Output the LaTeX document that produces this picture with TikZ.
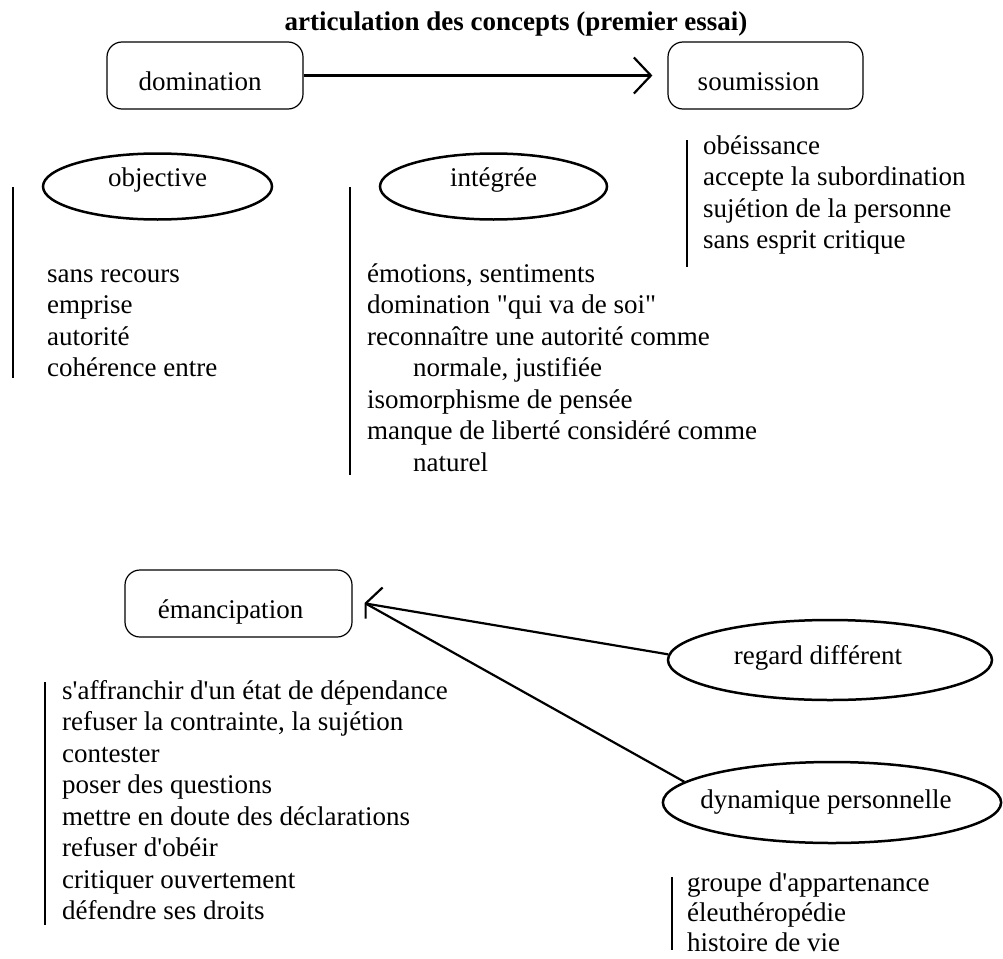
\documentclass[tikz,border=0pt]{standalone}
\usepackage{fontspec}
\setmainfont{Liberation Serif}[Ligatures=TeXOff]
\usetikzlibrary{shapes.geometric,arrows.meta}
% moves a label left by #1 inside a fixed-size shape
\newcommand{\leftby}[1]{\hspace*{-2\dimexpr#1\relax}}
\begin{document}
\begin{tikzpicture}[x=1pt,y=-1pt,
  every node/.style={font=\fontsize{27}{31.5}\selectfont, inner sep=0pt},
  concept/.style={draw, rounded corners=15pt, line width=1.2pt,
    minimum width=196pt, minimum height=67pt, text height=30pt, text depth=0pt},
  aspect/.style={draw, ellipse, line width=2.5pt,
    minimum width=229pt, minimum height=66pt, text height=10pt, text depth=10pt},
  item/.style={anchor=base west},
  bar/.style={line width=2.6pt},
  link/.style={line width=2.2pt}
]
\path[use as bounding box, fill=white] (0,0) rectangle (1003,958);

% title
\node[font=\bfseries\fontsize{27}{31.5}\selectfont, anchor=base] (title) at (516,31)
  {articulation des concepts (premier essai)};

% domination -> soumission
\node[concept] (dom) at (205,75.5) {\leftby{5pt}domination};
\node[concept, minimum width=195pt] (soum) at (765.5,75.5) {\leftby{7pt}soumission};
\draw[link, -{Straight Barb[length=17pt,width=36pt]}, shorten >=15pt] (dom.east) -- (soum.west);

% the two forms of domination
\node[aspect] (obj) at (157.5,186.5) {objective};
\node[aspect, minimum width=227pt] (integ) at (493.5,186.5) {intégrée};

\draw[bar] (13,187) -- (13,378);
\foreach \t [count=\i from 0] in {sans recours, emprise, autorité, cohérence entre}
  \node[item] (obj-\i) at (47,{282+31.5*\i}) {\t};

\draw[bar] (350,187) -- (350,475);
\foreach \t/\x [count=\i from 0] in {{émotions, sentiments}/367,
    {domination "qui va de soi"}/367,
    {reconnaître une autorité comme}/367,
    {normale, justifiée}/413,
    {isomorphisme de pensée}/367,
    {manque de liberté considéré comme}/367,
    {naturel}/413}
  \node[item] (integ-\i) at (\x,{282+31.5*\i}) {\t};

% soumission
\draw[bar] (687,140) -- (687,267);
\foreach \t [count=\i from 0] in {obéissance, accepte la subordination,
    sujétion de la personne, sans esprit critique}
  \node[item] (soum-\i) at (703,{154+31.5*\i}) {\t};

% emancipation and its sources
\node[concept, minimum width=227pt] (eman) at (238.5,603.5) {\leftby{8pt}émancipation};
\coordinate (tip) at ([xshift=13pt]eman.east);
\node[aspect, minimum width=324pt, minimum height=80pt, text height=14pt, text depth=6pt]
  (reg) at (830,660) {\leftby{12pt}regard différent};
\node[aspect, minimum width=328pt, minimum height=81pt, text height=16pt, text depth=4pt]
  (dyn) at (832,802.5) {\leftby{6pt}dynamique personnelle};

\draw[link] (reg.178) -- (tip);
\draw[link] (dyn.172) -- (tip);
\draw[link] ([shift={(17,-16)}]tip) -- (tip) -- ([shift={(0,15)}]tip);

\draw[bar] (45,682) -- (45,925);
\foreach \t [count=\i from 0] in {s'affranchir d'un état de dépendance,
    {refuser la contrainte, la sujétion}, contester, poser des questions,
    mettre en doute des déclarations, refuser d'obéir,
    critiquer ouvertement, défendre ses droits}
  \node[item] (eman-\i) at (62,{699+31.5*\i}) {\t};

\draw[bar] (672,877) -- (672,950);
\foreach \t [count=\i from 0] in {groupe d'appartenance, éleuthéropédie, histoire de vie}
  \node[item] (dyn-\i) at (687,{891+30*\i}) {\t};
\end{tikzpicture}
\end{document}
